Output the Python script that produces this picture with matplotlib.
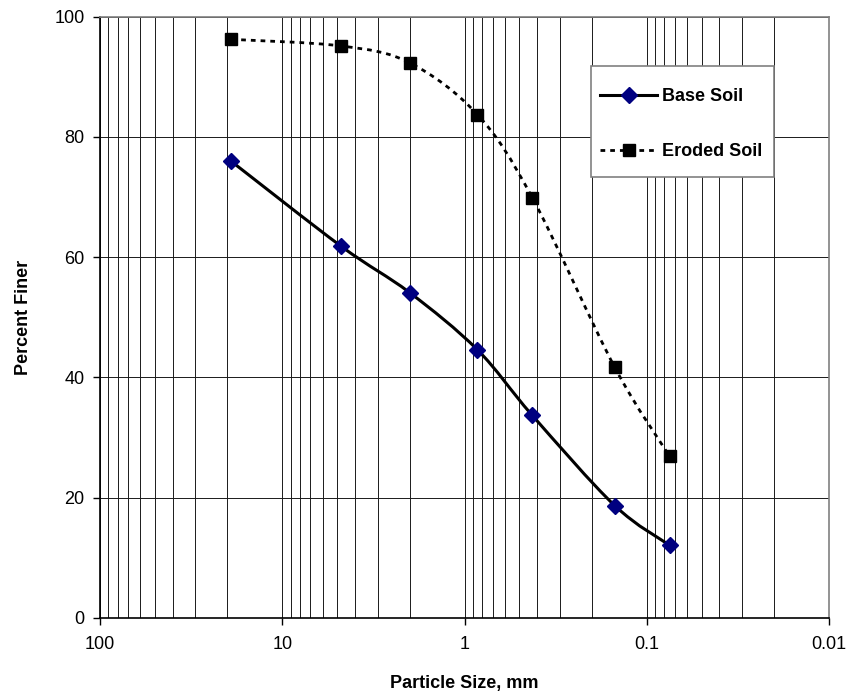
import matplotlib.pyplot as plt
import numpy as np
from matplotlib.path import Path
from matplotlib.patches import PathPatch, Rectangle
from matplotlib.lines import Line2D
from matplotlib.ticker import LogLocator, FixedLocator, FixedFormatter, NullFormatter

plt.rcParams['font.family'] = ['Liberation Sans', 'DejaVu Sans']

# --- data ---
sieve_mm = [19.0, 4.75, 2.0, 0.85, 0.425, 0.15, 0.075]
base_soil = [75.9, 61.8, 54.1, 44.6, 33.7, 18.7, 12.1]
eroded_soil = [96.2, 95.1, 92.3, 83.7, 69.9, 41.7, 26.9]

x_ticks = [100, 10, 1, 0.1, 0.01]
x_ticklabels = ['100', '10', '1', '0.1', '0.01']
y_ticks = [0, 20, 40, 60, 80, 100]

ERODED_DASH = (0, (1.7, 1.8))


def smooth_path(xs, ys):
    # Excel-like smoothed line: Catmull-Rom Bezier in (log x, y) space
    lx = np.log10(xs)
    pts = np.column_stack([lx, ys])
    n = len(pts)
    verts = [pts[0]]
    codes = [Path.MOVETO]
    for i in range(n - 1):
        p0 = pts[max(i - 1, 0)]
        p1 = pts[i]
        p2 = pts[i + 1]
        p3 = pts[min(i + 2, n - 1)]
        c1 = p1 + (p2 - p0) / 6.0
        c2 = p2 - (p3 - p1) / 6.0
        verts += [c1, c2, p2]
        codes += [Path.CURVE4] * 3
    verts = np.array(verts)
    verts[:, 0] = 10 ** verts[:, 0]
    return Path(verts, codes)


fig = plt.figure(figsize=(8.49, 6.96), dpi=100)
ax = fig.add_axes([100 / 849, 1 - 618 / 696, 729 / 849, 601.5 / 696])

ax.set_xscale('log')
ax.set_xlim(100, 0.01)
ax.set_ylim(0, 100)

# grid
ax.xaxis.set_major_locator(FixedLocator(x_ticks))
ax.xaxis.set_major_formatter(FixedFormatter(x_ticklabels))
ax.xaxis.set_minor_locator(LogLocator(base=10, subs=np.arange(2, 10), numticks=20))
ax.xaxis.set_minor_formatter(NullFormatter())
ax.set_yticks(y_ticks)
ax.grid(True, which='both', axis='x', color='#1a1a1a', linewidth=0.7)
ax.grid(True, which='major', axis='y', color='#1a1a1a', linewidth=0.7)
ax.set_axisbelow(True)

ax.tick_params(axis='both', which='major', direction='out', length=5,
               width=1, color='black', labelsize=13, pad=6)
ax.tick_params(axis='x', which='major', pad=8)
ax.tick_params(axis='x', which='minor', length=0)

for side in ['top', 'right']:
    ax.spines[side].set_color('#808080')
    ax.spines[side].set_linewidth(1.2)
for side in ['left', 'bottom']:
    ax.spines[side].set_color('black')
    ax.spines[side].set_linewidth(1.2)

# curves
ax.add_patch(PathPatch(smooth_path(sieve_mm, base_soil), fill=False,
                       edgecolor='black', linewidth=2.2, zorder=3))
ax.add_patch(PathPatch(smooth_path(sieve_mm, eroded_soil), fill=False,
                       edgecolor='black', linewidth=2.0, linestyle=ERODED_DASH,
                       zorder=3))
ax.plot(sieve_mm, base_soil, ls='none', marker='D', ms=8, color='#000080',
        markeredgecolor='#000080', zorder=4)
ax.plot(sieve_mm, eroded_soil, ls='none', marker='s', ms=9, color='black', zorder=4)

ax.set_xlabel('Particle Size, mm', fontsize=13, fontweight='bold', labelpad=16)
ax.set_ylabel('Percent Finer', fontsize=13, fontweight='bold', labelpad=16)

# legend box (Excel style, square grey frame)
ax.add_patch(Rectangle((0.6735, 0.733), 0.2511, 0.1847, transform=ax.transAxes,
                       facecolor='white', edgecolor='#808080', linewidth=1.2,
                       zorder=5))
handles = [
    Line2D([], [], color='black', lw=2.2, marker='D', ms=8,
           markerfacecolor='#000080', markeredgecolor='#000080'),
    Line2D([], [], color='black', lw=2.0, ls=ERODED_DASH, marker='s', ms=9,
           markerfacecolor='black', markeredgecolor='black'),
]
leg = ax.legend(handles, ['Base Soil', 'Eroded Soil'], loc='upper left',
                bbox_to_anchor=(0.6557, 0.9177), borderaxespad=0,
                frameon=False, prop={'size': 13, 'weight': 'bold'},
                handlelength=3.15, handletextpad=0.28, labelspacing=2.12,
                borderpad=1.23)
leg.set_zorder(6)

fig.savefig('out.png', dpi=100)
